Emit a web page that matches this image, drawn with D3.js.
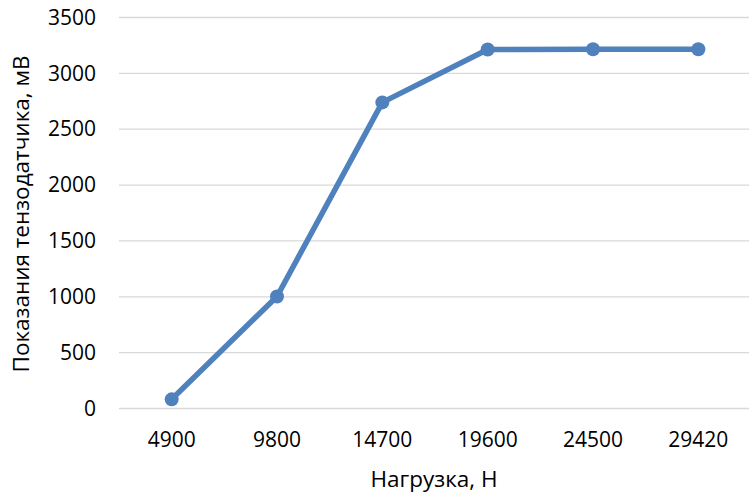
<!DOCTYPE html>
<html>
<head>
<meta charset="utf-8">
<script src="https://cdn.jsdelivr.net/npm/d3@7"></script>
<style>
  html, body { margin: 0; padding: 0; background: #fff; }
  svg { display: block; }
  text { font-family: "Open Sans", Lato, sans-serif; fill: #000; }
</style>
</head>
<body>
<svg id="chart" width="749" height="497"></svg>
<script>
// Load steps (N) and strain gauge readings (mV)
const loads = ["4900", "9800", "14700", "19600", "24500", "29420"];
const readings = [82, 1003, 2740, 3213, 3216, 3216];
const yTicks = [0, 500, 1000, 1500, 2000, 2500, 3000, 3500];
const xTitle = "Нагрузка, Н";
const yTitle = "Показания тензодатчика, мВ";

const FONT = "'Open Sans', Lato, sans-serif";
const svg = d3.select("#chart");
const plotLeft = 119, plotRight = 751, plotTop = 17.5, plotBottom = 408.5;

const x = d3.scaleBand().domain(loads).range([plotLeft, plotRight]);
const y = d3.scaleLinear().domain([0, 3500]).range([plotBottom, plotTop]);

// horizontal gridlines
svg.append("g")
  .selectAll("line")
  .data(yTicks)
  .join("line")
  .attr("x1", plotLeft).attr("x2", plotRight)
  .attr("y1", d => y(d)).attr("y2", d => y(d))
  .attr("stroke", "#d9d9d9")
  .attr("stroke-width", 1.3);

// y axis labels
const yAxis = svg.append("g")
  .attr("transform", "translate(96,0)")
  .call(d3.axisLeft(y).tickValues(yTicks).tickFormat(d3.format("d")).tickSize(0).tickPadding(0));
yAxis.select(".domain").remove();
yAxis.selectAll("text")
  .attr("font-size", 21)
  .attr("font-family", FONT)
  .attr("fill", "#000");

// x axis labels
const xAxis = svg.append("g")
  .attr("transform", `translate(0,${plotBottom})`)
  .call(d3.axisBottom(x).tickSize(0).tickPadding(24));
xAxis.select(".domain").remove();
xAxis.selectAll("text")
  .attr("font-size", 21)
  .attr("font-family", FONT)
  .attr("fill", "#000");

// axis titles
svg.append("text")
  .attr("x", 434)
  .attr("y", 487)
  .attr("text-anchor", "middle")
  .attr("font-size", 22.5)
  .text(xTitle);

svg.append("text")
  .attr("transform", "translate(28.5,214) rotate(-90)")
  .attr("text-anchor", "middle")
  .attr("font-size", 22.5)
  .text(yTitle);

const data = loads.map((k, i) => ({ k, v: readings[i] }));
const cx = d => x(d.k) + x.bandwidth() / 2;

// series line
svg.append("path")
  .datum(data)
  .attr("fill", "none")
  .attr("stroke", "#4f81bd")
  .attr("stroke-width", 5.5)
  .attr("stroke-linejoin", "round")
  .attr("d", d3.line().x(cx).y(d => y(d.v)));

// markers
svg.append("g")
  .selectAll("circle")
  .data(data)
  .join("circle")
  .attr("cx", cx)
  .attr("cy", d => y(d.v))
  .attr("r", 7)
  .attr("fill", "#4f81bd");
</script>
</body>
</html>
